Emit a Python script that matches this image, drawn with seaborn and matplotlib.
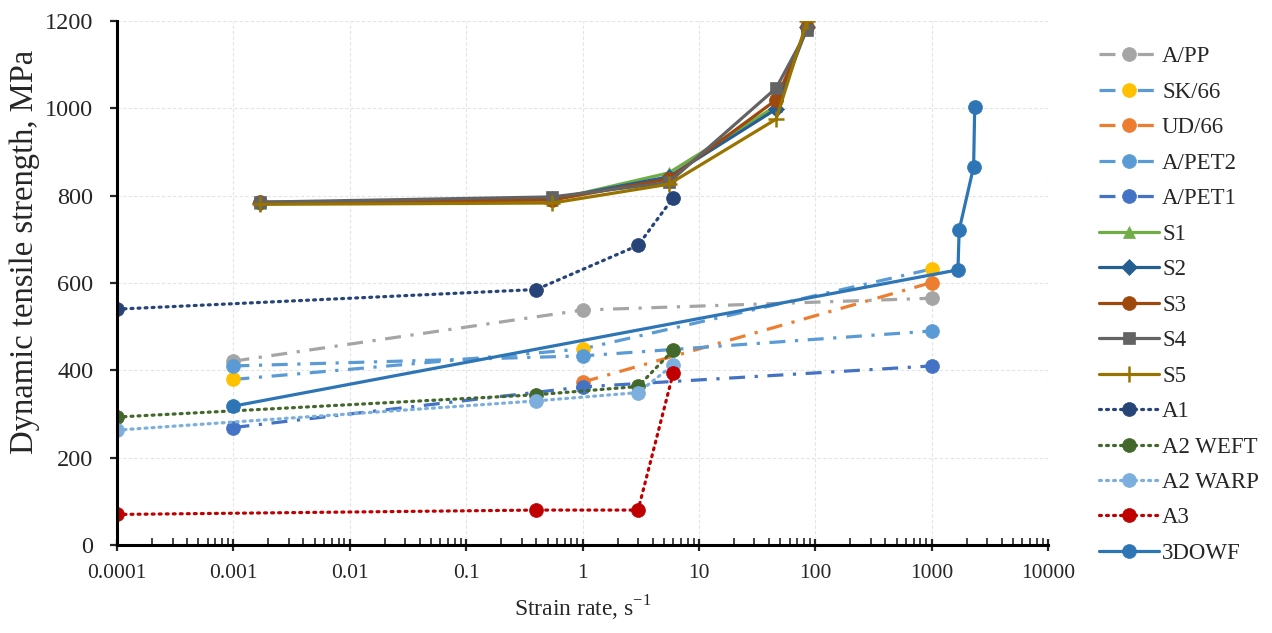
import numpy as np
import pandas as pd
import matplotlib
matplotlib.use("Agg")
import matplotlib.pyplot as plt
import seaborn as sns
from matplotlib.ticker import LogLocator, FuncFormatter, NullFormatter

# ---- data ----
app_x = [0.001, 1, 1000]
app_y = [421, 538, 565]
sk66_x = [0.001, 1, 1000]
sk66_y = [379, 449, 632]
ud66_x = [1, 1000]
ud66_y = [373, 601]
apet2_x = [0.001, 1, 1000]
apet2_y = [410, 433, 490]
apet1_x = [0.001, 1, 1000]
apet1_y = [269, 362, 410]
s_x = [0.0017, 0.55, 5.5, 46, 85]
s1_y = [783, 790, 852, 1005, 1190]
s2_y = [783, 792, 843, 998, 1185]
s3_y = [785, 790, 838, 1019, 1185]
s4_y = [785, 797, 830, 1046, 1178]
s5_y = [780, 783, 826, 975, 1200]
a_x = [0.0001, 0.4, 3, 6]
a1_y = [540, 585, 686, 795]
a2weft_y = [293, 344, 363, 446]
a2warp_y = [263, 330, 349, 412]
a3_y = [70, 80, 80, 393]
dowf_x = [0.001, 1680, 1720, 2290, 2340]
dowf_y = [318, 630, 721, 866, 1003]

sns.set_style("white")
plt.rcParams['font.family'] = ['Liberation Serif', 'DejaVu Serif']
plt.rcParams['mathtext.fontset'] = 'custom'
plt.rcParams['mathtext.rm'] = 'Liberation Serif'

fig = plt.figure(figsize=(12.72, 6.33), dpi=100)
ax = fig.add_axes([0.092, 0.139, 0.732, 0.828])

dashdot = (0, (5, 3, 1, 3))
dot = (0, (0.6, 1.6))

series = [
    ("A/PP", app_x, app_y, "#A5A5A5", "#A5A5A5", dashdot, "o"),
    ("SK/66", sk66_x, sk66_y, "#5B9BD5", "#FFC000", dashdot, "o"),
    ("UD/66", ud66_x, ud66_y, "#ED7D31", "#ED7D31", dashdot, "o"),
    ("A/PET2", apet2_x, apet2_y, "#5B9BD5", "#5B9BD5", dashdot, "o"),
    ("A/PET1", apet1_x, apet1_y, "#4472C4", "#4472C4", dashdot, "o"),
    ("S1", s_x, s1_y, "#70AD47", "#70AD47", "-", "^"),
    ("S2", s_x, s2_y, "#255E91", "#255E91", "-", "D"),
    ("S3", s_x, s3_y, "#9E480E", "#9E480E", "-", "o"),
    ("S4", s_x, s4_y, "#636363", "#636363", "-", "s"),
    ("S5", s_x, s5_y, "#997300", "#997300", "-", "+"),
    ("A1", a_x, a1_y, "#264478", "#264478", dot, "o"),
    ("A2 WEFT", a_x, a2weft_y, "#43682B", "#43682B", dot, "o"),
    ("A2 WARP", a_x, a2warp_y, "#7CAFDD", "#7CAFDD", dot, "o"),
    ("A3", a_x, a3_y, "#C00000", "#C00000", dot, "o"),
    ("3DOWF", dowf_x, dowf_y, "#2E75B6", "#2E75B6", "-", "o"),
]

for name, xs, ys, lc, mc, ls, mk in series:
    df = pd.DataFrame({"x": xs, "y": ys})
    msize = {"D": 8, "s": 9, "^": 9, "+": 12}.get(mk, 10)
    capstyle = "round" if ls is dot else "butt"
    sns.lineplot(data=df, x="x", y="y", ax=ax, estimator=None, sort=False,
                 color=lc, linestyle=ls, linewidth=2.3,
                 marker=mk, markersize=msize, markerfacecolor=mc,
                 markeredgecolor=mc, markeredgewidth=1.8 if mk == "+" else 0.5,
                 dash_capstyle=capstyle, label=name)

ax.set_xscale("log")
ax.set_xlim(0.0001, 10000)
ax.set_ylim(0, 1200)
ax.set_yticks(np.arange(0, 1201, 200))
ax.xaxis.set_major_locator(LogLocator(base=10, numticks=20))
ax.xaxis.set_minor_locator(LogLocator(base=10, subs=np.arange(2, 10), numticks=200))
ax.xaxis.set_major_formatter(FuncFormatter(lambda v, p: f"{v:g}"))
ax.xaxis.set_minor_formatter(NullFormatter())

ax.grid(True, which="major", color="#E4E4E4", linestyle=(0, (3, 2)), linewidth=0.8)
for s in ["top", "right"]:
    ax.spines[s].set_visible(False)
for s in ["left", "bottom"]:
    ax.spines[s].set_color("black")
    ax.spines[s].set_linewidth(2.2)

ax.tick_params(axis="x", which="major", direction="inout", length=9, width=1.6,
               labelsize=15.5, pad=9, bottom=True)
ax.tick_params(axis="x", which="minor", direction="in", length=5, width=1.2, bottom=True)
ax.tick_params(axis="y", which="major", direction="out", length=5, width=1.6,
               labelsize=17.5, pad=12, left=True)

ax.set_xlabel(r"Strain rate, s$^{\mathregular{-1}}$", fontsize=17, labelpad=8)
ax.set_ylabel("Dynamic tensile strength, MPa", fontsize=23.5)
ax.yaxis.set_label_coords(-0.083, 0.56)

handles, labels = ax.get_legend_handles_labels()
if ax.get_legend() is not None:
    ax.get_legend().remove()
fig.legend(handles, labels, loc="upper left", bbox_to_anchor=(0.864, 0.927),
           frameon=False, fontsize=16.5, handlelength=2.6, labelspacing=0.63,
           handletextpad=0.15, borderpad=0, borderaxespad=0)

fig.savefig("out.png", dpi=100)
